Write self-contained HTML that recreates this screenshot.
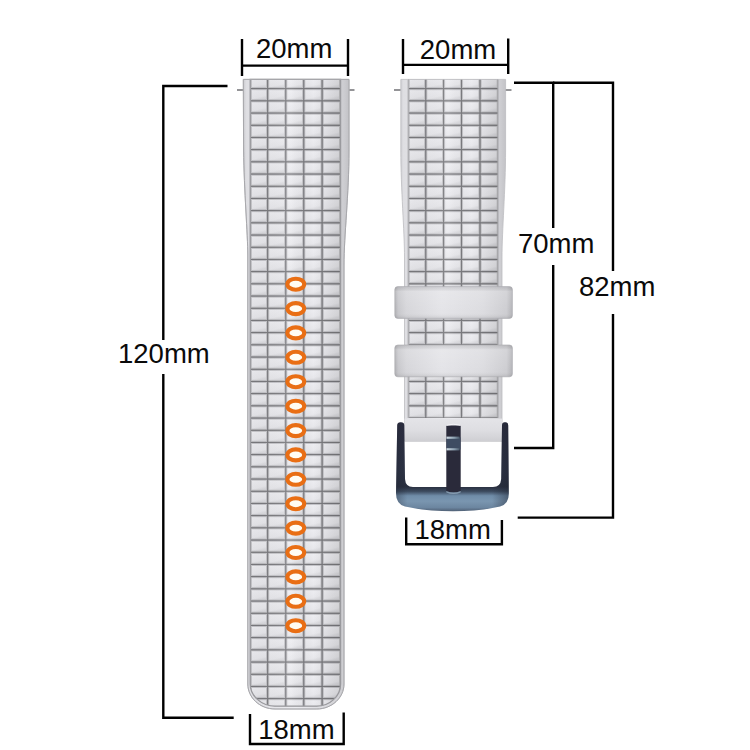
<!DOCTYPE html>
<html><head><meta charset="utf-8"><style>
html,body{margin:0;padding:0;background:#fff;width:750px;height:750px;overflow:hidden}
svg{display:block}
text{font-family:"Liberation Sans",sans-serif;font-size:27.5px;fill:#0a0a0a}
</style></head><body>
<svg width="750" height="750" viewBox="0 0 750 750">
<defs>
<linearGradient id="gL" gradientUnits="userSpaceOnUse" x1="243" x2="349" y1="0" y2="0">
<stop offset="0" stop-color="#c8c8cc"/><stop offset="0.03" stop-color="#dedee2"/><stop offset="0.5" stop-color="#ececf0"/><stop offset="0.88" stop-color="#d4d4d8"/><stop offset="0.95" stop-color="#cdcdd1"/><stop offset="1" stop-color="#c2c2c6"/>
</linearGradient>
<linearGradient id="gR" gradientUnits="userSpaceOnUse" x1="400" x2="506" y1="0" y2="0">
<stop offset="0" stop-color="#c8c8cc"/><stop offset="0.03" stop-color="#dedee2"/><stop offset="0.5" stop-color="#ececf0"/><stop offset="0.88" stop-color="#d4d4d8"/><stop offset="0.95" stop-color="#cdcdd1"/><stop offset="1" stop-color="#c2c2c6"/>
</linearGradient>
<linearGradient id="tile" x1="0" x2="0.35" y1="0" y2="1">
<stop offset="0" stop-color="#f6f6f9"/><stop offset="0.2" stop-color="#ededf1"/><stop offset="0.8" stop-color="#e8e8ec"/><stop offset="1" stop-color="#dcdce0"/>
</linearGradient>
<linearGradient id="cL" gradientUnits="userSpaceOnUse" x1="250" x2="341" y1="0" y2="0">
<stop offset="0" stop-color="#000" stop-opacity="0.03"/><stop offset="0.45" stop-color="#fff" stop-opacity="0.1"/><stop offset="0.7" stop-color="#000" stop-opacity="0"/><stop offset="1" stop-color="#000" stop-opacity="0.11"/>
</linearGradient>
<linearGradient id="cR" gradientUnits="userSpaceOnUse" x1="408" x2="498" y1="0" y2="0">
<stop offset="0" stop-color="#000" stop-opacity="0.03"/><stop offset="0.45" stop-color="#fff" stop-opacity="0.1"/><stop offset="0.7" stop-color="#000" stop-opacity="0"/><stop offset="1" stop-color="#000" stop-opacity="0.11"/>
</linearGradient>
<linearGradient id="loop" x1="0" x2="1" y1="0" y2="0">
<stop offset="0" stop-color="#b0b0b4"/><stop offset="0.03" stop-color="#c8c8cc"/><stop offset="0.1" stop-color="#d6d6da"/><stop offset="0.4" stop-color="#e4e4e8"/><stop offset="0.75" stop-color="#dcdce0"/><stop offset="0.95" stop-color="#cdcdd1"/><stop offset="1" stop-color="#b4b4b8"/>
</linearGradient>
<linearGradient id="loopV" x1="0" x2="0" y1="0" y2="1">
<stop offset="0" stop-color="#000" stop-opacity="0.08"/><stop offset="0.15" stop-color="#fff" stop-opacity="0.15"/><stop offset="0.8" stop-color="#fff" stop-opacity="0"/><stop offset="1" stop-color="#000" stop-opacity="0.1"/>
</linearGradient>
<linearGradient id="endg" x1="0" x2="0" y1="0" y2="1">
<stop offset="0" stop-color="#e4e4e8"/><stop offset="0.5" stop-color="#dedee2"/><stop offset="1" stop-color="#cfcfd3"/>
</linearGradient>
<linearGradient id="buck" gradientUnits="userSpaceOnUse" x1="0" x2="0" y1="422" y2="512">
<stop offset="0" stop-color="#2c2e40"/><stop offset="0.55" stop-color="#2e3446"/><stop offset="0.72" stop-color="#2a3040"/><stop offset="0.77" stop-color="#3c4a5e"/><stop offset="0.82" stop-color="#6f8ca8"/><stop offset="0.88" stop-color="#7a96b0"/><stop offset="0.95" stop-color="#6c86a0"/><stop offset="1" stop-color="#4a586c"/>
</linearGradient>
<linearGradient id="bedge" gradientUnits="userSpaceOnUse" x1="396" x2="509" y1="0" y2="0">
<stop offset="0" stop-color="#1e2230" stop-opacity="0.35"/><stop offset="0.1" stop-color="#1e2230" stop-opacity="0"/><stop offset="0.85" stop-color="#1e2230" stop-opacity="0"/><stop offset="1" stop-color="#1e2230" stop-opacity="0.45"/>
</linearGradient>
<linearGradient id="hl" x1="0" x2="1" y1="0" y2="0">
<stop offset="0" stop-color="#d0dce4"/><stop offset="0.6" stop-color="#8ca0b0"/><stop offset="1" stop-color="#4a5a6c"/>
</linearGradient>
<linearGradient id="side" x1="0" x2="1" y1="0" y2="0">
<stop offset="0" stop-color="#3c4456"/><stop offset="0.4" stop-color="#2a2e3e"/><stop offset="1" stop-color="#282c3a"/>
</linearGradient>
<linearGradient id="sideV" x1="0" x2="0" y1="0" y2="1">
<stop offset="0" stop-color="#000" stop-opacity="0"/><stop offset="0.75" stop-color="#000" stop-opacity="0"/><stop offset="1" stop-color="#5a7088" stop-opacity="0.6"/>
</linearGradient>

<clipPath id="clL"><path d="M250.2,79.4 L340.6,79.4 L340.6,684 C340.6,696.1 329.8,706.2 316.6,706.2 L275,706.2 C261.8,706.2 250.2,696.1 250.2,684 Z"/></clipPath>
<clipPath id="clR"><path d="M400.8,79.4 L505.6,79.4 L505.6,150 C505.6,190 502,230 502,258 L502,441.2 L404.5,441.2 L404.5,258 C404.5,230 400.8,190 400.8,150 Z"/></clipPath>
</defs>
<g stroke="#88888c" stroke-width="1.8">
<line x1="237" y1="90" x2="244" y2="90"/><line x1="348" y1="90" x2="354.5" y2="90"/>
<line x1="394" y1="90" x2="401" y2="90"/><line x1="505" y1="90" x2="511.5" y2="90"/>
</g>
<path d="M243.3,79.4 L349,79.4 L349,150 C349,195 344,235 344,265 L344,684 C344,697.8 331.7,709 316.8,709 L275,709 C260,709 247.8,697.8 247.8,684 L247.8,255 C247.8,235 244,190 243.6,150 Z" fill="url(#gL)" stroke="#bcbcc0" stroke-width="0.8"/>
<g clip-path="url(#clL)">
<rect x="250.2" y="79.4" width="90.4" height="629.6" fill="#7a7a7e"/>
<rect x="251.30" y="79.40" width="15.30" height="8.15" fill="url(#tile)" stroke="#c8c8cc" stroke-width="0.9"/>
<rect x="268.80" y="79.40" width="15.90" height="8.15" fill="url(#tile)" stroke="#c8c8cc" stroke-width="0.9"/>
<rect x="286.90" y="79.40" width="15.80" height="8.15" fill="url(#tile)" stroke="#c8c8cc" stroke-width="0.9"/>
<rect x="304.90" y="79.40" width="16.10" height="8.15" fill="url(#tile)" stroke="#c8c8cc" stroke-width="0.9"/>
<rect x="323.20" y="79.40" width="16.30" height="8.15" fill="url(#tile)" stroke="#c8c8cc" stroke-width="0.9"/>
<rect x="251.30" y="89.75" width="15.30" height="10.00" fill="url(#tile)" stroke="#c8c8cc" stroke-width="0.9"/>
<rect x="268.80" y="89.75" width="15.90" height="10.00" fill="url(#tile)" stroke="#c8c8cc" stroke-width="0.9"/>
<rect x="286.90" y="89.75" width="15.80" height="10.00" fill="url(#tile)" stroke="#c8c8cc" stroke-width="0.9"/>
<rect x="304.90" y="89.75" width="16.10" height="10.00" fill="url(#tile)" stroke="#c8c8cc" stroke-width="0.9"/>
<rect x="323.20" y="89.75" width="16.30" height="10.00" fill="url(#tile)" stroke="#c8c8cc" stroke-width="0.9"/>
<rect x="251.30" y="101.95" width="15.30" height="10.00" fill="url(#tile)" stroke="#c8c8cc" stroke-width="0.9"/>
<rect x="268.80" y="101.95" width="15.90" height="10.00" fill="url(#tile)" stroke="#c8c8cc" stroke-width="0.9"/>
<rect x="286.90" y="101.95" width="15.80" height="10.00" fill="url(#tile)" stroke="#c8c8cc" stroke-width="0.9"/>
<rect x="304.90" y="101.95" width="16.10" height="10.00" fill="url(#tile)" stroke="#c8c8cc" stroke-width="0.9"/>
<rect x="323.20" y="101.95" width="16.30" height="10.00" fill="url(#tile)" stroke="#c8c8cc" stroke-width="0.9"/>
<rect x="251.30" y="114.15" width="15.30" height="10.00" fill="url(#tile)" stroke="#c8c8cc" stroke-width="0.9"/>
<rect x="268.80" y="114.15" width="15.90" height="10.00" fill="url(#tile)" stroke="#c8c8cc" stroke-width="0.9"/>
<rect x="286.90" y="114.15" width="15.80" height="10.00" fill="url(#tile)" stroke="#c8c8cc" stroke-width="0.9"/>
<rect x="304.90" y="114.15" width="16.10" height="10.00" fill="url(#tile)" stroke="#c8c8cc" stroke-width="0.9"/>
<rect x="323.20" y="114.15" width="16.30" height="10.00" fill="url(#tile)" stroke="#c8c8cc" stroke-width="0.9"/>
<rect x="251.30" y="126.35" width="15.30" height="10.00" fill="url(#tile)" stroke="#c8c8cc" stroke-width="0.9"/>
<rect x="268.80" y="126.35" width="15.90" height="10.00" fill="url(#tile)" stroke="#c8c8cc" stroke-width="0.9"/>
<rect x="286.90" y="126.35" width="15.80" height="10.00" fill="url(#tile)" stroke="#c8c8cc" stroke-width="0.9"/>
<rect x="304.90" y="126.35" width="16.10" height="10.00" fill="url(#tile)" stroke="#c8c8cc" stroke-width="0.9"/>
<rect x="323.20" y="126.35" width="16.30" height="10.00" fill="url(#tile)" stroke="#c8c8cc" stroke-width="0.9"/>
<rect x="251.30" y="138.55" width="15.30" height="10.00" fill="url(#tile)" stroke="#c8c8cc" stroke-width="0.9"/>
<rect x="268.80" y="138.55" width="15.90" height="10.00" fill="url(#tile)" stroke="#c8c8cc" stroke-width="0.9"/>
<rect x="286.90" y="138.55" width="15.80" height="10.00" fill="url(#tile)" stroke="#c8c8cc" stroke-width="0.9"/>
<rect x="304.90" y="138.55" width="16.10" height="10.00" fill="url(#tile)" stroke="#c8c8cc" stroke-width="0.9"/>
<rect x="323.20" y="138.55" width="16.30" height="10.00" fill="url(#tile)" stroke="#c8c8cc" stroke-width="0.9"/>
<rect x="251.30" y="150.75" width="15.30" height="10.00" fill="url(#tile)" stroke="#c8c8cc" stroke-width="0.9"/>
<rect x="268.80" y="150.75" width="15.90" height="10.00" fill="url(#tile)" stroke="#c8c8cc" stroke-width="0.9"/>
<rect x="286.90" y="150.75" width="15.80" height="10.00" fill="url(#tile)" stroke="#c8c8cc" stroke-width="0.9"/>
<rect x="304.90" y="150.75" width="16.10" height="10.00" fill="url(#tile)" stroke="#c8c8cc" stroke-width="0.9"/>
<rect x="323.20" y="150.75" width="16.30" height="10.00" fill="url(#tile)" stroke="#c8c8cc" stroke-width="0.9"/>
<rect x="251.30" y="162.95" width="15.30" height="10.00" fill="url(#tile)" stroke="#c8c8cc" stroke-width="0.9"/>
<rect x="268.80" y="162.95" width="15.90" height="10.00" fill="url(#tile)" stroke="#c8c8cc" stroke-width="0.9"/>
<rect x="286.90" y="162.95" width="15.80" height="10.00" fill="url(#tile)" stroke="#c8c8cc" stroke-width="0.9"/>
<rect x="304.90" y="162.95" width="16.10" height="10.00" fill="url(#tile)" stroke="#c8c8cc" stroke-width="0.9"/>
<rect x="323.20" y="162.95" width="16.30" height="10.00" fill="url(#tile)" stroke="#c8c8cc" stroke-width="0.9"/>
<rect x="251.30" y="175.15" width="15.30" height="10.00" fill="url(#tile)" stroke="#c8c8cc" stroke-width="0.9"/>
<rect x="268.80" y="175.15" width="15.90" height="10.00" fill="url(#tile)" stroke="#c8c8cc" stroke-width="0.9"/>
<rect x="286.90" y="175.15" width="15.80" height="10.00" fill="url(#tile)" stroke="#c8c8cc" stroke-width="0.9"/>
<rect x="304.90" y="175.15" width="16.10" height="10.00" fill="url(#tile)" stroke="#c8c8cc" stroke-width="0.9"/>
<rect x="323.20" y="175.15" width="16.30" height="10.00" fill="url(#tile)" stroke="#c8c8cc" stroke-width="0.9"/>
<rect x="251.30" y="187.35" width="15.30" height="10.00" fill="url(#tile)" stroke="#c8c8cc" stroke-width="0.9"/>
<rect x="268.80" y="187.35" width="15.90" height="10.00" fill="url(#tile)" stroke="#c8c8cc" stroke-width="0.9"/>
<rect x="286.90" y="187.35" width="15.80" height="10.00" fill="url(#tile)" stroke="#c8c8cc" stroke-width="0.9"/>
<rect x="304.90" y="187.35" width="16.10" height="10.00" fill="url(#tile)" stroke="#c8c8cc" stroke-width="0.9"/>
<rect x="323.20" y="187.35" width="16.30" height="10.00" fill="url(#tile)" stroke="#c8c8cc" stroke-width="0.9"/>
<rect x="251.30" y="199.55" width="15.30" height="10.00" fill="url(#tile)" stroke="#c8c8cc" stroke-width="0.9"/>
<rect x="268.80" y="199.55" width="15.90" height="10.00" fill="url(#tile)" stroke="#c8c8cc" stroke-width="0.9"/>
<rect x="286.90" y="199.55" width="15.80" height="10.00" fill="url(#tile)" stroke="#c8c8cc" stroke-width="0.9"/>
<rect x="304.90" y="199.55" width="16.10" height="10.00" fill="url(#tile)" stroke="#c8c8cc" stroke-width="0.9"/>
<rect x="323.20" y="199.55" width="16.30" height="10.00" fill="url(#tile)" stroke="#c8c8cc" stroke-width="0.9"/>
<rect x="251.30" y="211.75" width="15.30" height="10.00" fill="url(#tile)" stroke="#c8c8cc" stroke-width="0.9"/>
<rect x="268.80" y="211.75" width="15.90" height="10.00" fill="url(#tile)" stroke="#c8c8cc" stroke-width="0.9"/>
<rect x="286.90" y="211.75" width="15.80" height="10.00" fill="url(#tile)" stroke="#c8c8cc" stroke-width="0.9"/>
<rect x="304.90" y="211.75" width="16.10" height="10.00" fill="url(#tile)" stroke="#c8c8cc" stroke-width="0.9"/>
<rect x="323.20" y="211.75" width="16.30" height="10.00" fill="url(#tile)" stroke="#c8c8cc" stroke-width="0.9"/>
<rect x="251.30" y="223.95" width="15.30" height="10.00" fill="url(#tile)" stroke="#c8c8cc" stroke-width="0.9"/>
<rect x="268.80" y="223.95" width="15.90" height="10.00" fill="url(#tile)" stroke="#c8c8cc" stroke-width="0.9"/>
<rect x="286.90" y="223.95" width="15.80" height="10.00" fill="url(#tile)" stroke="#c8c8cc" stroke-width="0.9"/>
<rect x="304.90" y="223.95" width="16.10" height="10.00" fill="url(#tile)" stroke="#c8c8cc" stroke-width="0.9"/>
<rect x="323.20" y="223.95" width="16.30" height="10.00" fill="url(#tile)" stroke="#c8c8cc" stroke-width="0.9"/>
<rect x="251.30" y="236.15" width="15.30" height="10.00" fill="url(#tile)" stroke="#c8c8cc" stroke-width="0.9"/>
<rect x="268.80" y="236.15" width="15.90" height="10.00" fill="url(#tile)" stroke="#c8c8cc" stroke-width="0.9"/>
<rect x="286.90" y="236.15" width="15.80" height="10.00" fill="url(#tile)" stroke="#c8c8cc" stroke-width="0.9"/>
<rect x="304.90" y="236.15" width="16.10" height="10.00" fill="url(#tile)" stroke="#c8c8cc" stroke-width="0.9"/>
<rect x="323.20" y="236.15" width="16.30" height="10.00" fill="url(#tile)" stroke="#c8c8cc" stroke-width="0.9"/>
<rect x="251.30" y="248.35" width="15.30" height="10.00" fill="url(#tile)" stroke="#c8c8cc" stroke-width="0.9"/>
<rect x="268.80" y="248.35" width="15.90" height="10.00" fill="url(#tile)" stroke="#c8c8cc" stroke-width="0.9"/>
<rect x="286.90" y="248.35" width="15.80" height="10.00" fill="url(#tile)" stroke="#c8c8cc" stroke-width="0.9"/>
<rect x="304.90" y="248.35" width="16.10" height="10.00" fill="url(#tile)" stroke="#c8c8cc" stroke-width="0.9"/>
<rect x="323.20" y="248.35" width="16.30" height="10.00" fill="url(#tile)" stroke="#c8c8cc" stroke-width="0.9"/>
<rect x="251.30" y="260.55" width="15.30" height="10.00" fill="url(#tile)" stroke="#c8c8cc" stroke-width="0.9"/>
<rect x="268.80" y="260.55" width="15.90" height="10.00" fill="url(#tile)" stroke="#c8c8cc" stroke-width="0.9"/>
<rect x="286.90" y="260.55" width="15.80" height="10.00" fill="url(#tile)" stroke="#c8c8cc" stroke-width="0.9"/>
<rect x="304.90" y="260.55" width="16.10" height="10.00" fill="url(#tile)" stroke="#c8c8cc" stroke-width="0.9"/>
<rect x="323.20" y="260.55" width="16.30" height="10.00" fill="url(#tile)" stroke="#c8c8cc" stroke-width="0.9"/>
<rect x="251.30" y="272.75" width="15.30" height="10.00" fill="url(#tile)" stroke="#c8c8cc" stroke-width="0.9"/>
<rect x="268.80" y="272.75" width="15.90" height="10.00" fill="url(#tile)" stroke="#c8c8cc" stroke-width="0.9"/>
<rect x="286.90" y="272.75" width="15.80" height="10.00" fill="url(#tile)" stroke="#c8c8cc" stroke-width="0.9"/>
<rect x="304.90" y="272.75" width="16.10" height="10.00" fill="url(#tile)" stroke="#c8c8cc" stroke-width="0.9"/>
<rect x="323.20" y="272.75" width="16.30" height="10.00" fill="url(#tile)" stroke="#c8c8cc" stroke-width="0.9"/>
<rect x="251.30" y="284.95" width="15.30" height="10.00" fill="url(#tile)" stroke="#c8c8cc" stroke-width="0.9"/>
<rect x="268.80" y="284.95" width="15.90" height="10.00" fill="url(#tile)" stroke="#c8c8cc" stroke-width="0.9"/>
<rect x="286.90" y="284.95" width="15.80" height="10.00" fill="url(#tile)" stroke="#c8c8cc" stroke-width="0.9"/>
<rect x="304.90" y="284.95" width="16.10" height="10.00" fill="url(#tile)" stroke="#c8c8cc" stroke-width="0.9"/>
<rect x="323.20" y="284.95" width="16.30" height="10.00" fill="url(#tile)" stroke="#c8c8cc" stroke-width="0.9"/>
<rect x="251.30" y="297.15" width="15.30" height="10.00" fill="url(#tile)" stroke="#c8c8cc" stroke-width="0.9"/>
<rect x="268.80" y="297.15" width="15.90" height="10.00" fill="url(#tile)" stroke="#c8c8cc" stroke-width="0.9"/>
<rect x="286.90" y="297.15" width="15.80" height="10.00" fill="url(#tile)" stroke="#c8c8cc" stroke-width="0.9"/>
<rect x="304.90" y="297.15" width="16.10" height="10.00" fill="url(#tile)" stroke="#c8c8cc" stroke-width="0.9"/>
<rect x="323.20" y="297.15" width="16.30" height="10.00" fill="url(#tile)" stroke="#c8c8cc" stroke-width="0.9"/>
<rect x="251.30" y="309.35" width="15.30" height="10.00" fill="url(#tile)" stroke="#c8c8cc" stroke-width="0.9"/>
<rect x="268.80" y="309.35" width="15.90" height="10.00" fill="url(#tile)" stroke="#c8c8cc" stroke-width="0.9"/>
<rect x="286.90" y="309.35" width="15.80" height="10.00" fill="url(#tile)" stroke="#c8c8cc" stroke-width="0.9"/>
<rect x="304.90" y="309.35" width="16.10" height="10.00" fill="url(#tile)" stroke="#c8c8cc" stroke-width="0.9"/>
<rect x="323.20" y="309.35" width="16.30" height="10.00" fill="url(#tile)" stroke="#c8c8cc" stroke-width="0.9"/>
<rect x="251.30" y="321.55" width="15.30" height="10.00" fill="url(#tile)" stroke="#c8c8cc" stroke-width="0.9"/>
<rect x="268.80" y="321.55" width="15.90" height="10.00" fill="url(#tile)" stroke="#c8c8cc" stroke-width="0.9"/>
<rect x="286.90" y="321.55" width="15.80" height="10.00" fill="url(#tile)" stroke="#c8c8cc" stroke-width="0.9"/>
<rect x="304.90" y="321.55" width="16.10" height="10.00" fill="url(#tile)" stroke="#c8c8cc" stroke-width="0.9"/>
<rect x="323.20" y="321.55" width="16.30" height="10.00" fill="url(#tile)" stroke="#c8c8cc" stroke-width="0.9"/>
<rect x="251.30" y="333.75" width="15.30" height="10.00" fill="url(#tile)" stroke="#c8c8cc" stroke-width="0.9"/>
<rect x="268.80" y="333.75" width="15.90" height="10.00" fill="url(#tile)" stroke="#c8c8cc" stroke-width="0.9"/>
<rect x="286.90" y="333.75" width="15.80" height="10.00" fill="url(#tile)" stroke="#c8c8cc" stroke-width="0.9"/>
<rect x="304.90" y="333.75" width="16.10" height="10.00" fill="url(#tile)" stroke="#c8c8cc" stroke-width="0.9"/>
<rect x="323.20" y="333.75" width="16.30" height="10.00" fill="url(#tile)" stroke="#c8c8cc" stroke-width="0.9"/>
<rect x="251.30" y="345.95" width="15.30" height="10.00" fill="url(#tile)" stroke="#c8c8cc" stroke-width="0.9"/>
<rect x="268.80" y="345.95" width="15.90" height="10.00" fill="url(#tile)" stroke="#c8c8cc" stroke-width="0.9"/>
<rect x="286.90" y="345.95" width="15.80" height="10.00" fill="url(#tile)" stroke="#c8c8cc" stroke-width="0.9"/>
<rect x="304.90" y="345.95" width="16.10" height="10.00" fill="url(#tile)" stroke="#c8c8cc" stroke-width="0.9"/>
<rect x="323.20" y="345.95" width="16.30" height="10.00" fill="url(#tile)" stroke="#c8c8cc" stroke-width="0.9"/>
<rect x="251.30" y="358.15" width="15.30" height="10.00" fill="url(#tile)" stroke="#c8c8cc" stroke-width="0.9"/>
<rect x="268.80" y="358.15" width="15.90" height="10.00" fill="url(#tile)" stroke="#c8c8cc" stroke-width="0.9"/>
<rect x="286.90" y="358.15" width="15.80" height="10.00" fill="url(#tile)" stroke="#c8c8cc" stroke-width="0.9"/>
<rect x="304.90" y="358.15" width="16.10" height="10.00" fill="url(#tile)" stroke="#c8c8cc" stroke-width="0.9"/>
<rect x="323.20" y="358.15" width="16.30" height="10.00" fill="url(#tile)" stroke="#c8c8cc" stroke-width="0.9"/>
<rect x="251.30" y="370.35" width="15.30" height="10.00" fill="url(#tile)" stroke="#c8c8cc" stroke-width="0.9"/>
<rect x="268.80" y="370.35" width="15.90" height="10.00" fill="url(#tile)" stroke="#c8c8cc" stroke-width="0.9"/>
<rect x="286.90" y="370.35" width="15.80" height="10.00" fill="url(#tile)" stroke="#c8c8cc" stroke-width="0.9"/>
<rect x="304.90" y="370.35" width="16.10" height="10.00" fill="url(#tile)" stroke="#c8c8cc" stroke-width="0.9"/>
<rect x="323.20" y="370.35" width="16.30" height="10.00" fill="url(#tile)" stroke="#c8c8cc" stroke-width="0.9"/>
<rect x="251.30" y="382.55" width="15.30" height="10.00" fill="url(#tile)" stroke="#c8c8cc" stroke-width="0.9"/>
<rect x="268.80" y="382.55" width="15.90" height="10.00" fill="url(#tile)" stroke="#c8c8cc" stroke-width="0.9"/>
<rect x="286.90" y="382.55" width="15.80" height="10.00" fill="url(#tile)" stroke="#c8c8cc" stroke-width="0.9"/>
<rect x="304.90" y="382.55" width="16.10" height="10.00" fill="url(#tile)" stroke="#c8c8cc" stroke-width="0.9"/>
<rect x="323.20" y="382.55" width="16.30" height="10.00" fill="url(#tile)" stroke="#c8c8cc" stroke-width="0.9"/>
<rect x="251.30" y="394.75" width="15.30" height="10.00" fill="url(#tile)" stroke="#c8c8cc" stroke-width="0.9"/>
<rect x="268.80" y="394.75" width="15.90" height="10.00" fill="url(#tile)" stroke="#c8c8cc" stroke-width="0.9"/>
<rect x="286.90" y="394.75" width="15.80" height="10.00" fill="url(#tile)" stroke="#c8c8cc" stroke-width="0.9"/>
<rect x="304.90" y="394.75" width="16.10" height="10.00" fill="url(#tile)" stroke="#c8c8cc" stroke-width="0.9"/>
<rect x="323.20" y="394.75" width="16.30" height="10.00" fill="url(#tile)" stroke="#c8c8cc" stroke-width="0.9"/>
<rect x="251.30" y="406.95" width="15.30" height="10.00" fill="url(#tile)" stroke="#c8c8cc" stroke-width="0.9"/>
<rect x="268.80" y="406.95" width="15.90" height="10.00" fill="url(#tile)" stroke="#c8c8cc" stroke-width="0.9"/>
<rect x="286.90" y="406.95" width="15.80" height="10.00" fill="url(#tile)" stroke="#c8c8cc" stroke-width="0.9"/>
<rect x="304.90" y="406.95" width="16.10" height="10.00" fill="url(#tile)" stroke="#c8c8cc" stroke-width="0.9"/>
<rect x="323.20" y="406.95" width="16.30" height="10.00" fill="url(#tile)" stroke="#c8c8cc" stroke-width="0.9"/>
<rect x="251.30" y="419.15" width="15.30" height="10.00" fill="url(#tile)" stroke="#c8c8cc" stroke-width="0.9"/>
<rect x="268.80" y="419.15" width="15.90" height="10.00" fill="url(#tile)" stroke="#c8c8cc" stroke-width="0.9"/>
<rect x="286.90" y="419.15" width="15.80" height="10.00" fill="url(#tile)" stroke="#c8c8cc" stroke-width="0.9"/>
<rect x="304.90" y="419.15" width="16.10" height="10.00" fill="url(#tile)" stroke="#c8c8cc" stroke-width="0.9"/>
<rect x="323.20" y="419.15" width="16.30" height="10.00" fill="url(#tile)" stroke="#c8c8cc" stroke-width="0.9"/>
<rect x="251.30" y="431.35" width="15.30" height="10.00" fill="url(#tile)" stroke="#c8c8cc" stroke-width="0.9"/>
<rect x="268.80" y="431.35" width="15.90" height="10.00" fill="url(#tile)" stroke="#c8c8cc" stroke-width="0.9"/>
<rect x="286.90" y="431.35" width="15.80" height="10.00" fill="url(#tile)" stroke="#c8c8cc" stroke-width="0.9"/>
<rect x="304.90" y="431.35" width="16.10" height="10.00" fill="url(#tile)" stroke="#c8c8cc" stroke-width="0.9"/>
<rect x="323.20" y="431.35" width="16.30" height="10.00" fill="url(#tile)" stroke="#c8c8cc" stroke-width="0.9"/>
<rect x="251.30" y="443.55" width="15.30" height="10.00" fill="url(#tile)" stroke="#c8c8cc" stroke-width="0.9"/>
<rect x="268.80" y="443.55" width="15.90" height="10.00" fill="url(#tile)" stroke="#c8c8cc" stroke-width="0.9"/>
<rect x="286.90" y="443.55" width="15.80" height="10.00" fill="url(#tile)" stroke="#c8c8cc" stroke-width="0.9"/>
<rect x="304.90" y="443.55" width="16.10" height="10.00" fill="url(#tile)" stroke="#c8c8cc" stroke-width="0.9"/>
<rect x="323.20" y="443.55" width="16.30" height="10.00" fill="url(#tile)" stroke="#c8c8cc" stroke-width="0.9"/>
<rect x="251.30" y="455.75" width="15.30" height="10.00" fill="url(#tile)" stroke="#c8c8cc" stroke-width="0.9"/>
<rect x="268.80" y="455.75" width="15.90" height="10.00" fill="url(#tile)" stroke="#c8c8cc" stroke-width="0.9"/>
<rect x="286.90" y="455.75" width="15.80" height="10.00" fill="url(#tile)" stroke="#c8c8cc" stroke-width="0.9"/>
<rect x="304.90" y="455.75" width="16.10" height="10.00" fill="url(#tile)" stroke="#c8c8cc" stroke-width="0.9"/>
<rect x="323.20" y="455.75" width="16.30" height="10.00" fill="url(#tile)" stroke="#c8c8cc" stroke-width="0.9"/>
<rect x="251.30" y="467.95" width="15.30" height="10.00" fill="url(#tile)" stroke="#c8c8cc" stroke-width="0.9"/>
<rect x="268.80" y="467.95" width="15.90" height="10.00" fill="url(#tile)" stroke="#c8c8cc" stroke-width="0.9"/>
<rect x="286.90" y="467.95" width="15.80" height="10.00" fill="url(#tile)" stroke="#c8c8cc" stroke-width="0.9"/>
<rect x="304.90" y="467.95" width="16.10" height="10.00" fill="url(#tile)" stroke="#c8c8cc" stroke-width="0.9"/>
<rect x="323.20" y="467.95" width="16.30" height="10.00" fill="url(#tile)" stroke="#c8c8cc" stroke-width="0.9"/>
<rect x="251.30" y="480.15" width="15.30" height="10.00" fill="url(#tile)" stroke="#c8c8cc" stroke-width="0.9"/>
<rect x="268.80" y="480.15" width="15.90" height="10.00" fill="url(#tile)" stroke="#c8c8cc" stroke-width="0.9"/>
<rect x="286.90" y="480.15" width="15.80" height="10.00" fill="url(#tile)" stroke="#c8c8cc" stroke-width="0.9"/>
<rect x="304.90" y="480.15" width="16.10" height="10.00" fill="url(#tile)" stroke="#c8c8cc" stroke-width="0.9"/>
<rect x="323.20" y="480.15" width="16.30" height="10.00" fill="url(#tile)" stroke="#c8c8cc" stroke-width="0.9"/>
<rect x="251.30" y="492.35" width="15.30" height="10.00" fill="url(#tile)" stroke="#c8c8cc" stroke-width="0.9"/>
<rect x="268.80" y="492.35" width="15.90" height="10.00" fill="url(#tile)" stroke="#c8c8cc" stroke-width="0.9"/>
<rect x="286.90" y="492.35" width="15.80" height="10.00" fill="url(#tile)" stroke="#c8c8cc" stroke-width="0.9"/>
<rect x="304.90" y="492.35" width="16.10" height="10.00" fill="url(#tile)" stroke="#c8c8cc" stroke-width="0.9"/>
<rect x="323.20" y="492.35" width="16.30" height="10.00" fill="url(#tile)" stroke="#c8c8cc" stroke-width="0.9"/>
<rect x="251.30" y="504.55" width="15.30" height="10.00" fill="url(#tile)" stroke="#c8c8cc" stroke-width="0.9"/>
<rect x="268.80" y="504.55" width="15.90" height="10.00" fill="url(#tile)" stroke="#c8c8cc" stroke-width="0.9"/>
<rect x="286.90" y="504.55" width="15.80" height="10.00" fill="url(#tile)" stroke="#c8c8cc" stroke-width="0.9"/>
<rect x="304.90" y="504.55" width="16.10" height="10.00" fill="url(#tile)" stroke="#c8c8cc" stroke-width="0.9"/>
<rect x="323.20" y="504.55" width="16.30" height="10.00" fill="url(#tile)" stroke="#c8c8cc" stroke-width="0.9"/>
<rect x="251.30" y="516.75" width="15.30" height="10.00" fill="url(#tile)" stroke="#c8c8cc" stroke-width="0.9"/>
<rect x="268.80" y="516.75" width="15.90" height="10.00" fill="url(#tile)" stroke="#c8c8cc" stroke-width="0.9"/>
<rect x="286.90" y="516.75" width="15.80" height="10.00" fill="url(#tile)" stroke="#c8c8cc" stroke-width="0.9"/>
<rect x="304.90" y="516.75" width="16.10" height="10.00" fill="url(#tile)" stroke="#c8c8cc" stroke-width="0.9"/>
<rect x="323.20" y="516.75" width="16.30" height="10.00" fill="url(#tile)" stroke="#c8c8cc" stroke-width="0.9"/>
<rect x="251.30" y="528.95" width="15.30" height="10.00" fill="url(#tile)" stroke="#c8c8cc" stroke-width="0.9"/>
<rect x="268.80" y="528.95" width="15.90" height="10.00" fill="url(#tile)" stroke="#c8c8cc" stroke-width="0.9"/>
<rect x="286.90" y="528.95" width="15.80" height="10.00" fill="url(#tile)" stroke="#c8c8cc" stroke-width="0.9"/>
<rect x="304.90" y="528.95" width="16.10" height="10.00" fill="url(#tile)" stroke="#c8c8cc" stroke-width="0.9"/>
<rect x="323.20" y="528.95" width="16.30" height="10.00" fill="url(#tile)" stroke="#c8c8cc" stroke-width="0.9"/>
<rect x="251.30" y="541.15" width="15.30" height="10.00" fill="url(#tile)" stroke="#c8c8cc" stroke-width="0.9"/>
<rect x="268.80" y="541.15" width="15.90" height="10.00" fill="url(#tile)" stroke="#c8c8cc" stroke-width="0.9"/>
<rect x="286.90" y="541.15" width="15.80" height="10.00" fill="url(#tile)" stroke="#c8c8cc" stroke-width="0.9"/>
<rect x="304.90" y="541.15" width="16.10" height="10.00" fill="url(#tile)" stroke="#c8c8cc" stroke-width="0.9"/>
<rect x="323.20" y="541.15" width="16.30" height="10.00" fill="url(#tile)" stroke="#c8c8cc" stroke-width="0.9"/>
<rect x="251.30" y="553.35" width="15.30" height="10.00" fill="url(#tile)" stroke="#c8c8cc" stroke-width="0.9"/>
<rect x="268.80" y="553.35" width="15.90" height="10.00" fill="url(#tile)" stroke="#c8c8cc" stroke-width="0.9"/>
<rect x="286.90" y="553.35" width="15.80" height="10.00" fill="url(#tile)" stroke="#c8c8cc" stroke-width="0.9"/>
<rect x="304.90" y="553.35" width="16.10" height="10.00" fill="url(#tile)" stroke="#c8c8cc" stroke-width="0.9"/>
<rect x="323.20" y="553.35" width="16.30" height="10.00" fill="url(#tile)" stroke="#c8c8cc" stroke-width="0.9"/>
<rect x="251.30" y="565.55" width="15.30" height="10.00" fill="url(#tile)" stroke="#c8c8cc" stroke-width="0.9"/>
<rect x="268.80" y="565.55" width="15.90" height="10.00" fill="url(#tile)" stroke="#c8c8cc" stroke-width="0.9"/>
<rect x="286.90" y="565.55" width="15.80" height="10.00" fill="url(#tile)" stroke="#c8c8cc" stroke-width="0.9"/>
<rect x="304.90" y="565.55" width="16.10" height="10.00" fill="url(#tile)" stroke="#c8c8cc" stroke-width="0.9"/>
<rect x="323.20" y="565.55" width="16.30" height="10.00" fill="url(#tile)" stroke="#c8c8cc" stroke-width="0.9"/>
<rect x="251.30" y="577.75" width="15.30" height="10.00" fill="url(#tile)" stroke="#c8c8cc" stroke-width="0.9"/>
<rect x="268.80" y="577.75" width="15.90" height="10.00" fill="url(#tile)" stroke="#c8c8cc" stroke-width="0.9"/>
<rect x="286.90" y="577.75" width="15.80" height="10.00" fill="url(#tile)" stroke="#c8c8cc" stroke-width="0.9"/>
<rect x="304.90" y="577.75" width="16.10" height="10.00" fill="url(#tile)" stroke="#c8c8cc" stroke-width="0.9"/>
<rect x="323.20" y="577.75" width="16.30" height="10.00" fill="url(#tile)" stroke="#c8c8cc" stroke-width="0.9"/>
<rect x="251.30" y="589.95" width="15.30" height="10.00" fill="url(#tile)" stroke="#c8c8cc" stroke-width="0.9"/>
<rect x="268.80" y="589.95" width="15.90" height="10.00" fill="url(#tile)" stroke="#c8c8cc" stroke-width="0.9"/>
<rect x="286.90" y="589.95" width="15.80" height="10.00" fill="url(#tile)" stroke="#c8c8cc" stroke-width="0.9"/>
<rect x="304.90" y="589.95" width="16.10" height="10.00" fill="url(#tile)" stroke="#c8c8cc" stroke-width="0.9"/>
<rect x="323.20" y="589.95" width="16.30" height="10.00" fill="url(#tile)" stroke="#c8c8cc" stroke-width="0.9"/>
<rect x="251.30" y="602.15" width="15.30" height="10.00" fill="url(#tile)" stroke="#c8c8cc" stroke-width="0.9"/>
<rect x="268.80" y="602.15" width="15.90" height="10.00" fill="url(#tile)" stroke="#c8c8cc" stroke-width="0.9"/>
<rect x="286.90" y="602.15" width="15.80" height="10.00" fill="url(#tile)" stroke="#c8c8cc" stroke-width="0.9"/>
<rect x="304.90" y="602.15" width="16.10" height="10.00" fill="url(#tile)" stroke="#c8c8cc" stroke-width="0.9"/>
<rect x="323.20" y="602.15" width="16.30" height="10.00" fill="url(#tile)" stroke="#c8c8cc" stroke-width="0.9"/>
<rect x="251.30" y="614.35" width="15.30" height="10.00" fill="url(#tile)" stroke="#c8c8cc" stroke-width="0.9"/>
<rect x="268.80" y="614.35" width="15.90" height="10.00" fill="url(#tile)" stroke="#c8c8cc" stroke-width="0.9"/>
<rect x="286.90" y="614.35" width="15.80" height="10.00" fill="url(#tile)" stroke="#c8c8cc" stroke-width="0.9"/>
<rect x="304.90" y="614.35" width="16.10" height="10.00" fill="url(#tile)" stroke="#c8c8cc" stroke-width="0.9"/>
<rect x="323.20" y="614.35" width="16.30" height="10.00" fill="url(#tile)" stroke="#c8c8cc" stroke-width="0.9"/>
<rect x="251.30" y="626.55" width="15.30" height="10.00" fill="url(#tile)" stroke="#c8c8cc" stroke-width="0.9"/>
<rect x="268.80" y="626.55" width="15.90" height="10.00" fill="url(#tile)" stroke="#c8c8cc" stroke-width="0.9"/>
<rect x="286.90" y="626.55" width="15.80" height="10.00" fill="url(#tile)" stroke="#c8c8cc" stroke-width="0.9"/>
<rect x="304.90" y="626.55" width="16.10" height="10.00" fill="url(#tile)" stroke="#c8c8cc" stroke-width="0.9"/>
<rect x="323.20" y="626.55" width="16.30" height="10.00" fill="url(#tile)" stroke="#c8c8cc" stroke-width="0.9"/>
<rect x="251.30" y="638.75" width="15.30" height="10.00" fill="url(#tile)" stroke="#c8c8cc" stroke-width="0.9"/>
<rect x="268.80" y="638.75" width="15.90" height="10.00" fill="url(#tile)" stroke="#c8c8cc" stroke-width="0.9"/>
<rect x="286.90" y="638.75" width="15.80" height="10.00" fill="url(#tile)" stroke="#c8c8cc" stroke-width="0.9"/>
<rect x="304.90" y="638.75" width="16.10" height="10.00" fill="url(#tile)" stroke="#c8c8cc" stroke-width="0.9"/>
<rect x="323.20" y="638.75" width="16.30" height="10.00" fill="url(#tile)" stroke="#c8c8cc" stroke-width="0.9"/>
<rect x="251.30" y="650.95" width="15.30" height="10.00" fill="url(#tile)" stroke="#c8c8cc" stroke-width="0.9"/>
<rect x="268.80" y="650.95" width="15.90" height="10.00" fill="url(#tile)" stroke="#c8c8cc" stroke-width="0.9"/>
<rect x="286.90" y="650.95" width="15.80" height="10.00" fill="url(#tile)" stroke="#c8c8cc" stroke-width="0.9"/>
<rect x="304.90" y="650.95" width="16.10" height="10.00" fill="url(#tile)" stroke="#c8c8cc" stroke-width="0.9"/>
<rect x="323.20" y="650.95" width="16.30" height="10.00" fill="url(#tile)" stroke="#c8c8cc" stroke-width="0.9"/>
<rect x="251.30" y="663.15" width="15.30" height="10.00" fill="url(#tile)" stroke="#c8c8cc" stroke-width="0.9"/>
<rect x="268.80" y="663.15" width="15.90" height="10.00" fill="url(#tile)" stroke="#c8c8cc" stroke-width="0.9"/>
<rect x="286.90" y="663.15" width="15.80" height="10.00" fill="url(#tile)" stroke="#c8c8cc" stroke-width="0.9"/>
<rect x="304.90" y="663.15" width="16.10" height="10.00" fill="url(#tile)" stroke="#c8c8cc" stroke-width="0.9"/>
<rect x="323.20" y="663.15" width="16.30" height="10.00" fill="url(#tile)" stroke="#c8c8cc" stroke-width="0.9"/>
<rect x="251.30" y="675.35" width="15.30" height="10.00" fill="url(#tile)" stroke="#c8c8cc" stroke-width="0.9"/>
<rect x="268.80" y="675.35" width="15.90" height="10.00" fill="url(#tile)" stroke="#c8c8cc" stroke-width="0.9"/>
<rect x="286.90" y="675.35" width="15.80" height="10.00" fill="url(#tile)" stroke="#c8c8cc" stroke-width="0.9"/>
<rect x="304.90" y="675.35" width="16.10" height="10.00" fill="url(#tile)" stroke="#c8c8cc" stroke-width="0.9"/>
<rect x="323.20" y="675.35" width="16.30" height="10.00" fill="url(#tile)" stroke="#c8c8cc" stroke-width="0.9"/>
<rect x="251.30" y="687.55" width="15.30" height="10.00" fill="url(#tile)" stroke="#c8c8cc" stroke-width="0.9"/>
<rect x="268.80" y="687.55" width="15.90" height="10.00" fill="url(#tile)" stroke="#c8c8cc" stroke-width="0.9"/>
<rect x="286.90" y="687.55" width="15.80" height="10.00" fill="url(#tile)" stroke="#c8c8cc" stroke-width="0.9"/>
<rect x="304.90" y="687.55" width="16.10" height="10.00" fill="url(#tile)" stroke="#c8c8cc" stroke-width="0.9"/>
<rect x="323.20" y="687.55" width="16.30" height="10.00" fill="url(#tile)" stroke="#c8c8cc" stroke-width="0.9"/>
<rect x="251.30" y="699.75" width="15.30" height="9.25" fill="url(#tile)" stroke="#c8c8cc" stroke-width="0.9"/>
<rect x="268.80" y="699.75" width="15.90" height="9.25" fill="url(#tile)" stroke="#c8c8cc" stroke-width="0.9"/>
<rect x="286.90" y="699.75" width="15.80" height="9.25" fill="url(#tile)" stroke="#c8c8cc" stroke-width="0.9"/>
<rect x="304.90" y="699.75" width="16.10" height="9.25" fill="url(#tile)" stroke="#c8c8cc" stroke-width="0.9"/>
<rect x="323.20" y="699.75" width="16.30" height="9.25" fill="url(#tile)" stroke="#c8c8cc" stroke-width="0.9"/>
<rect x="250.2" y="79.4" width="90.4" height="629.6" fill="url(#cL)"/>
<g stroke="#bababe" stroke-width="1.3">
<line x1="250.2" y1="79.4" x2="250.2" y2="709.0"/>
<line x1="340.6" y1="79.4" x2="340.6" y2="709.0"/>
</g></g>
<path d="M250.2,79.4 L340.6,79.4 L340.6,684 C340.6,696.1 329.8,706.2 316.6,706.2 L275,706.2 C261.8,706.2 250.2,696.1 250.2,684 Z" fill="none" stroke="#9a9a9e" stroke-width="1.3"/>
<path d="M243.3,79.4 L349,79.4 L349,150 C349,195 344,235 344,265 L344,684 C344,697.8 331.7,709 316.8,709 L275,709 C260,709 247.8,697.8 247.8,684 L247.8,255 C247.8,235 244,190 243.6,150 Z" fill="none" stroke="#a8a8ac" stroke-width="1"/>
<path d="M400.8,79.4 L505.6,79.4 L505.6,150 C505.6,190 502,230 502,258 L502,441.2 L404.5,441.2 L404.5,258 C404.5,230 400.8,190 400.8,150 Z" fill="url(#gR)" stroke="#bcbcc0" stroke-width="0.8"/>
<g clip-path="url(#clR)">
<rect x="408.1" y="79.4" width="90.1" height="338.6" fill="#7a7a7e"/>
<rect x="409.20" y="79.40" width="15.50" height="8.15" fill="url(#tile)" stroke="#c8c8cc" stroke-width="0.9"/>
<rect x="426.90" y="79.40" width="15.60" height="8.15" fill="url(#tile)" stroke="#c8c8cc" stroke-width="0.9"/>
<rect x="444.70" y="79.40" width="15.70" height="8.15" fill="url(#tile)" stroke="#c8c8cc" stroke-width="0.9"/>
<rect x="462.60" y="79.40" width="16.30" height="8.15" fill="url(#tile)" stroke="#c8c8cc" stroke-width="0.9"/>
<rect x="481.10" y="79.40" width="16.00" height="8.15" fill="url(#tile)" stroke="#c8c8cc" stroke-width="0.9"/>
<rect x="409.20" y="89.75" width="15.50" height="10.00" fill="url(#tile)" stroke="#c8c8cc" stroke-width="0.9"/>
<rect x="426.90" y="89.75" width="15.60" height="10.00" fill="url(#tile)" stroke="#c8c8cc" stroke-width="0.9"/>
<rect x="444.70" y="89.75" width="15.70" height="10.00" fill="url(#tile)" stroke="#c8c8cc" stroke-width="0.9"/>
<rect x="462.60" y="89.75" width="16.30" height="10.00" fill="url(#tile)" stroke="#c8c8cc" stroke-width="0.9"/>
<rect x="481.10" y="89.75" width="16.00" height="10.00" fill="url(#tile)" stroke="#c8c8cc" stroke-width="0.9"/>
<rect x="409.20" y="101.95" width="15.50" height="10.00" fill="url(#tile)" stroke="#c8c8cc" stroke-width="0.9"/>
<rect x="426.90" y="101.95" width="15.60" height="10.00" fill="url(#tile)" stroke="#c8c8cc" stroke-width="0.9"/>
<rect x="444.70" y="101.95" width="15.70" height="10.00" fill="url(#tile)" stroke="#c8c8cc" stroke-width="0.9"/>
<rect x="462.60" y="101.95" width="16.30" height="10.00" fill="url(#tile)" stroke="#c8c8cc" stroke-width="0.9"/>
<rect x="481.10" y="101.95" width="16.00" height="10.00" fill="url(#tile)" stroke="#c8c8cc" stroke-width="0.9"/>
<rect x="409.20" y="114.15" width="15.50" height="10.00" fill="url(#tile)" stroke="#c8c8cc" stroke-width="0.9"/>
<rect x="426.90" y="114.15" width="15.60" height="10.00" fill="url(#tile)" stroke="#c8c8cc" stroke-width="0.9"/>
<rect x="444.70" y="114.15" width="15.70" height="10.00" fill="url(#tile)" stroke="#c8c8cc" stroke-width="0.9"/>
<rect x="462.60" y="114.15" width="16.30" height="10.00" fill="url(#tile)" stroke="#c8c8cc" stroke-width="0.9"/>
<rect x="481.10" y="114.15" width="16.00" height="10.00" fill="url(#tile)" stroke="#c8c8cc" stroke-width="0.9"/>
<rect x="409.20" y="126.35" width="15.50" height="10.00" fill="url(#tile)" stroke="#c8c8cc" stroke-width="0.9"/>
<rect x="426.90" y="126.35" width="15.60" height="10.00" fill="url(#tile)" stroke="#c8c8cc" stroke-width="0.9"/>
<rect x="444.70" y="126.35" width="15.70" height="10.00" fill="url(#tile)" stroke="#c8c8cc" stroke-width="0.9"/>
<rect x="462.60" y="126.35" width="16.30" height="10.00" fill="url(#tile)" stroke="#c8c8cc" stroke-width="0.9"/>
<rect x="481.10" y="126.35" width="16.00" height="10.00" fill="url(#tile)" stroke="#c8c8cc" stroke-width="0.9"/>
<rect x="409.20" y="138.55" width="15.50" height="10.00" fill="url(#tile)" stroke="#c8c8cc" stroke-width="0.9"/>
<rect x="426.90" y="138.55" width="15.60" height="10.00" fill="url(#tile)" stroke="#c8c8cc" stroke-width="0.9"/>
<rect x="444.70" y="138.55" width="15.70" height="10.00" fill="url(#tile)" stroke="#c8c8cc" stroke-width="0.9"/>
<rect x="462.60" y="138.55" width="16.30" height="10.00" fill="url(#tile)" stroke="#c8c8cc" stroke-width="0.9"/>
<rect x="481.10" y="138.55" width="16.00" height="10.00" fill="url(#tile)" stroke="#c8c8cc" stroke-width="0.9"/>
<rect x="409.20" y="150.75" width="15.50" height="10.00" fill="url(#tile)" stroke="#c8c8cc" stroke-width="0.9"/>
<rect x="426.90" y="150.75" width="15.60" height="10.00" fill="url(#tile)" stroke="#c8c8cc" stroke-width="0.9"/>
<rect x="444.70" y="150.75" width="15.70" height="10.00" fill="url(#tile)" stroke="#c8c8cc" stroke-width="0.9"/>
<rect x="462.60" y="150.75" width="16.30" height="10.00" fill="url(#tile)" stroke="#c8c8cc" stroke-width="0.9"/>
<rect x="481.10" y="150.75" width="16.00" height="10.00" fill="url(#tile)" stroke="#c8c8cc" stroke-width="0.9"/>
<rect x="409.20" y="162.95" width="15.50" height="10.00" fill="url(#tile)" stroke="#c8c8cc" stroke-width="0.9"/>
<rect x="426.90" y="162.95" width="15.60" height="10.00" fill="url(#tile)" stroke="#c8c8cc" stroke-width="0.9"/>
<rect x="444.70" y="162.95" width="15.70" height="10.00" fill="url(#tile)" stroke="#c8c8cc" stroke-width="0.9"/>
<rect x="462.60" y="162.95" width="16.30" height="10.00" fill="url(#tile)" stroke="#c8c8cc" stroke-width="0.9"/>
<rect x="481.10" y="162.95" width="16.00" height="10.00" fill="url(#tile)" stroke="#c8c8cc" stroke-width="0.9"/>
<rect x="409.20" y="175.15" width="15.50" height="10.00" fill="url(#tile)" stroke="#c8c8cc" stroke-width="0.9"/>
<rect x="426.90" y="175.15" width="15.60" height="10.00" fill="url(#tile)" stroke="#c8c8cc" stroke-width="0.9"/>
<rect x="444.70" y="175.15" width="15.70" height="10.00" fill="url(#tile)" stroke="#c8c8cc" stroke-width="0.9"/>
<rect x="462.60" y="175.15" width="16.30" height="10.00" fill="url(#tile)" stroke="#c8c8cc" stroke-width="0.9"/>
<rect x="481.10" y="175.15" width="16.00" height="10.00" fill="url(#tile)" stroke="#c8c8cc" stroke-width="0.9"/>
<rect x="409.20" y="187.35" width="15.50" height="10.00" fill="url(#tile)" stroke="#c8c8cc" stroke-width="0.9"/>
<rect x="426.90" y="187.35" width="15.60" height="10.00" fill="url(#tile)" stroke="#c8c8cc" stroke-width="0.9"/>
<rect x="444.70" y="187.35" width="15.70" height="10.00" fill="url(#tile)" stroke="#c8c8cc" stroke-width="0.9"/>
<rect x="462.60" y="187.35" width="16.30" height="10.00" fill="url(#tile)" stroke="#c8c8cc" stroke-width="0.9"/>
<rect x="481.10" y="187.35" width="16.00" height="10.00" fill="url(#tile)" stroke="#c8c8cc" stroke-width="0.9"/>
<rect x="409.20" y="199.55" width="15.50" height="10.00" fill="url(#tile)" stroke="#c8c8cc" stroke-width="0.9"/>
<rect x="426.90" y="199.55" width="15.60" height="10.00" fill="url(#tile)" stroke="#c8c8cc" stroke-width="0.9"/>
<rect x="444.70" y="199.55" width="15.70" height="10.00" fill="url(#tile)" stroke="#c8c8cc" stroke-width="0.9"/>
<rect x="462.60" y="199.55" width="16.30" height="10.00" fill="url(#tile)" stroke="#c8c8cc" stroke-width="0.9"/>
<rect x="481.10" y="199.55" width="16.00" height="10.00" fill="url(#tile)" stroke="#c8c8cc" stroke-width="0.9"/>
<rect x="409.20" y="211.75" width="15.50" height="10.00" fill="url(#tile)" stroke="#c8c8cc" stroke-width="0.9"/>
<rect x="426.90" y="211.75" width="15.60" height="10.00" fill="url(#tile)" stroke="#c8c8cc" stroke-width="0.9"/>
<rect x="444.70" y="211.75" width="15.70" height="10.00" fill="url(#tile)" stroke="#c8c8cc" stroke-width="0.9"/>
<rect x="462.60" y="211.75" width="16.30" height="10.00" fill="url(#tile)" stroke="#c8c8cc" stroke-width="0.9"/>
<rect x="481.10" y="211.75" width="16.00" height="10.00" fill="url(#tile)" stroke="#c8c8cc" stroke-width="0.9"/>
<rect x="409.20" y="223.95" width="15.50" height="10.00" fill="url(#tile)" stroke="#c8c8cc" stroke-width="0.9"/>
<rect x="426.90" y="223.95" width="15.60" height="10.00" fill="url(#tile)" stroke="#c8c8cc" stroke-width="0.9"/>
<rect x="444.70" y="223.95" width="15.70" height="10.00" fill="url(#tile)" stroke="#c8c8cc" stroke-width="0.9"/>
<rect x="462.60" y="223.95" width="16.30" height="10.00" fill="url(#tile)" stroke="#c8c8cc" stroke-width="0.9"/>
<rect x="481.10" y="223.95" width="16.00" height="10.00" fill="url(#tile)" stroke="#c8c8cc" stroke-width="0.9"/>
<rect x="409.20" y="236.15" width="15.50" height="10.00" fill="url(#tile)" stroke="#c8c8cc" stroke-width="0.9"/>
<rect x="426.90" y="236.15" width="15.60" height="10.00" fill="url(#tile)" stroke="#c8c8cc" stroke-width="0.9"/>
<rect x="444.70" y="236.15" width="15.70" height="10.00" fill="url(#tile)" stroke="#c8c8cc" stroke-width="0.9"/>
<rect x="462.60" y="236.15" width="16.30" height="10.00" fill="url(#tile)" stroke="#c8c8cc" stroke-width="0.9"/>
<rect x="481.10" y="236.15" width="16.00" height="10.00" fill="url(#tile)" stroke="#c8c8cc" stroke-width="0.9"/>
<rect x="409.20" y="248.35" width="15.50" height="10.00" fill="url(#tile)" stroke="#c8c8cc" stroke-width="0.9"/>
<rect x="426.90" y="248.35" width="15.60" height="10.00" fill="url(#tile)" stroke="#c8c8cc" stroke-width="0.9"/>
<rect x="444.70" y="248.35" width="15.70" height="10.00" fill="url(#tile)" stroke="#c8c8cc" stroke-width="0.9"/>
<rect x="462.60" y="248.35" width="16.30" height="10.00" fill="url(#tile)" stroke="#c8c8cc" stroke-width="0.9"/>
<rect x="481.10" y="248.35" width="16.00" height="10.00" fill="url(#tile)" stroke="#c8c8cc" stroke-width="0.9"/>
<rect x="409.20" y="260.55" width="15.50" height="10.00" fill="url(#tile)" stroke="#c8c8cc" stroke-width="0.9"/>
<rect x="426.90" y="260.55" width="15.60" height="10.00" fill="url(#tile)" stroke="#c8c8cc" stroke-width="0.9"/>
<rect x="444.70" y="260.55" width="15.70" height="10.00" fill="url(#tile)" stroke="#c8c8cc" stroke-width="0.9"/>
<rect x="462.60" y="260.55" width="16.30" height="10.00" fill="url(#tile)" stroke="#c8c8cc" stroke-width="0.9"/>
<rect x="481.10" y="260.55" width="16.00" height="10.00" fill="url(#tile)" stroke="#c8c8cc" stroke-width="0.9"/>
<rect x="409.20" y="272.75" width="15.50" height="10.00" fill="url(#tile)" stroke="#c8c8cc" stroke-width="0.9"/>
<rect x="426.90" y="272.75" width="15.60" height="10.00" fill="url(#tile)" stroke="#c8c8cc" stroke-width="0.9"/>
<rect x="444.70" y="272.75" width="15.70" height="10.00" fill="url(#tile)" stroke="#c8c8cc" stroke-width="0.9"/>
<rect x="462.60" y="272.75" width="16.30" height="10.00" fill="url(#tile)" stroke="#c8c8cc" stroke-width="0.9"/>
<rect x="481.10" y="272.75" width="16.00" height="10.00" fill="url(#tile)" stroke="#c8c8cc" stroke-width="0.9"/>
<rect x="409.20" y="284.95" width="15.50" height="10.00" fill="url(#tile)" stroke="#c8c8cc" stroke-width="0.9"/>
<rect x="426.90" y="284.95" width="15.60" height="10.00" fill="url(#tile)" stroke="#c8c8cc" stroke-width="0.9"/>
<rect x="444.70" y="284.95" width="15.70" height="10.00" fill="url(#tile)" stroke="#c8c8cc" stroke-width="0.9"/>
<rect x="462.60" y="284.95" width="16.30" height="10.00" fill="url(#tile)" stroke="#c8c8cc" stroke-width="0.9"/>
<rect x="481.10" y="284.95" width="16.00" height="10.00" fill="url(#tile)" stroke="#c8c8cc" stroke-width="0.9"/>
<rect x="409.20" y="297.15" width="15.50" height="10.00" fill="url(#tile)" stroke="#c8c8cc" stroke-width="0.9"/>
<rect x="426.90" y="297.15" width="15.60" height="10.00" fill="url(#tile)" stroke="#c8c8cc" stroke-width="0.9"/>
<rect x="444.70" y="297.15" width="15.70" height="10.00" fill="url(#tile)" stroke="#c8c8cc" stroke-width="0.9"/>
<rect x="462.60" y="297.15" width="16.30" height="10.00" fill="url(#tile)" stroke="#c8c8cc" stroke-width="0.9"/>
<rect x="481.10" y="297.15" width="16.00" height="10.00" fill="url(#tile)" stroke="#c8c8cc" stroke-width="0.9"/>
<rect x="409.20" y="309.35" width="15.50" height="10.00" fill="url(#tile)" stroke="#c8c8cc" stroke-width="0.9"/>
<rect x="426.90" y="309.35" width="15.60" height="10.00" fill="url(#tile)" stroke="#c8c8cc" stroke-width="0.9"/>
<rect x="444.70" y="309.35" width="15.70" height="10.00" fill="url(#tile)" stroke="#c8c8cc" stroke-width="0.9"/>
<rect x="462.60" y="309.35" width="16.30" height="10.00" fill="url(#tile)" stroke="#c8c8cc" stroke-width="0.9"/>
<rect x="481.10" y="309.35" width="16.00" height="10.00" fill="url(#tile)" stroke="#c8c8cc" stroke-width="0.9"/>
<rect x="409.20" y="321.55" width="15.50" height="10.00" fill="url(#tile)" stroke="#c8c8cc" stroke-width="0.9"/>
<rect x="426.90" y="321.55" width="15.60" height="10.00" fill="url(#tile)" stroke="#c8c8cc" stroke-width="0.9"/>
<rect x="444.70" y="321.55" width="15.70" height="10.00" fill="url(#tile)" stroke="#c8c8cc" stroke-width="0.9"/>
<rect x="462.60" y="321.55" width="16.30" height="10.00" fill="url(#tile)" stroke="#c8c8cc" stroke-width="0.9"/>
<rect x="481.10" y="321.55" width="16.00" height="10.00" fill="url(#tile)" stroke="#c8c8cc" stroke-width="0.9"/>
<rect x="409.20" y="333.75" width="15.50" height="10.00" fill="url(#tile)" stroke="#c8c8cc" stroke-width="0.9"/>
<rect x="426.90" y="333.75" width="15.60" height="10.00" fill="url(#tile)" stroke="#c8c8cc" stroke-width="0.9"/>
<rect x="444.70" y="333.75" width="15.70" height="10.00" fill="url(#tile)" stroke="#c8c8cc" stroke-width="0.9"/>
<rect x="462.60" y="333.75" width="16.30" height="10.00" fill="url(#tile)" stroke="#c8c8cc" stroke-width="0.9"/>
<rect x="481.10" y="333.75" width="16.00" height="10.00" fill="url(#tile)" stroke="#c8c8cc" stroke-width="0.9"/>
<rect x="409.20" y="345.95" width="15.50" height="10.00" fill="url(#tile)" stroke="#c8c8cc" stroke-width="0.9"/>
<rect x="426.90" y="345.95" width="15.60" height="10.00" fill="url(#tile)" stroke="#c8c8cc" stroke-width="0.9"/>
<rect x="444.70" y="345.95" width="15.70" height="10.00" fill="url(#tile)" stroke="#c8c8cc" stroke-width="0.9"/>
<rect x="462.60" y="345.95" width="16.30" height="10.00" fill="url(#tile)" stroke="#c8c8cc" stroke-width="0.9"/>
<rect x="481.10" y="345.95" width="16.00" height="10.00" fill="url(#tile)" stroke="#c8c8cc" stroke-width="0.9"/>
<rect x="409.20" y="358.15" width="15.50" height="10.00" fill="url(#tile)" stroke="#c8c8cc" stroke-width="0.9"/>
<rect x="426.90" y="358.15" width="15.60" height="10.00" fill="url(#tile)" stroke="#c8c8cc" stroke-width="0.9"/>
<rect x="444.70" y="358.15" width="15.70" height="10.00" fill="url(#tile)" stroke="#c8c8cc" stroke-width="0.9"/>
<rect x="462.60" y="358.15" width="16.30" height="10.00" fill="url(#tile)" stroke="#c8c8cc" stroke-width="0.9"/>
<rect x="481.10" y="358.15" width="16.00" height="10.00" fill="url(#tile)" stroke="#c8c8cc" stroke-width="0.9"/>
<rect x="409.20" y="370.35" width="15.50" height="10.00" fill="url(#tile)" stroke="#c8c8cc" stroke-width="0.9"/>
<rect x="426.90" y="370.35" width="15.60" height="10.00" fill="url(#tile)" stroke="#c8c8cc" stroke-width="0.9"/>
<rect x="444.70" y="370.35" width="15.70" height="10.00" fill="url(#tile)" stroke="#c8c8cc" stroke-width="0.9"/>
<rect x="462.60" y="370.35" width="16.30" height="10.00" fill="url(#tile)" stroke="#c8c8cc" stroke-width="0.9"/>
<rect x="481.10" y="370.35" width="16.00" height="10.00" fill="url(#tile)" stroke="#c8c8cc" stroke-width="0.9"/>
<rect x="409.20" y="382.55" width="15.50" height="10.00" fill="url(#tile)" stroke="#c8c8cc" stroke-width="0.9"/>
<rect x="426.90" y="382.55" width="15.60" height="10.00" fill="url(#tile)" stroke="#c8c8cc" stroke-width="0.9"/>
<rect x="444.70" y="382.55" width="15.70" height="10.00" fill="url(#tile)" stroke="#c8c8cc" stroke-width="0.9"/>
<rect x="462.60" y="382.55" width="16.30" height="10.00" fill="url(#tile)" stroke="#c8c8cc" stroke-width="0.9"/>
<rect x="481.10" y="382.55" width="16.00" height="10.00" fill="url(#tile)" stroke="#c8c8cc" stroke-width="0.9"/>
<rect x="409.20" y="394.75" width="15.50" height="10.00" fill="url(#tile)" stroke="#c8c8cc" stroke-width="0.9"/>
<rect x="426.90" y="394.75" width="15.60" height="10.00" fill="url(#tile)" stroke="#c8c8cc" stroke-width="0.9"/>
<rect x="444.70" y="394.75" width="15.70" height="10.00" fill="url(#tile)" stroke="#c8c8cc" stroke-width="0.9"/>
<rect x="462.60" y="394.75" width="16.30" height="10.00" fill="url(#tile)" stroke="#c8c8cc" stroke-width="0.9"/>
<rect x="481.10" y="394.75" width="16.00" height="10.00" fill="url(#tile)" stroke="#c8c8cc" stroke-width="0.9"/>
<rect x="409.20" y="406.95" width="15.50" height="10.00" fill="url(#tile)" stroke="#c8c8cc" stroke-width="0.9"/>
<rect x="426.90" y="406.95" width="15.60" height="10.00" fill="url(#tile)" stroke="#c8c8cc" stroke-width="0.9"/>
<rect x="444.70" y="406.95" width="15.70" height="10.00" fill="url(#tile)" stroke="#c8c8cc" stroke-width="0.9"/>
<rect x="462.60" y="406.95" width="16.30" height="10.00" fill="url(#tile)" stroke="#c8c8cc" stroke-width="0.9"/>
<rect x="481.10" y="406.95" width="16.00" height="10.00" fill="url(#tile)" stroke="#c8c8cc" stroke-width="0.9"/>
<rect x="409.20" y="419.15" width="15.50" height="-1.15" fill="url(#tile)" stroke="#c8c8cc" stroke-width="0.9"/>
<rect x="426.90" y="419.15" width="15.60" height="-1.15" fill="url(#tile)" stroke="#c8c8cc" stroke-width="0.9"/>
<rect x="444.70" y="419.15" width="15.70" height="-1.15" fill="url(#tile)" stroke="#c8c8cc" stroke-width="0.9"/>
<rect x="462.60" y="419.15" width="16.30" height="-1.15" fill="url(#tile)" stroke="#c8c8cc" stroke-width="0.9"/>
<rect x="481.10" y="419.15" width="16.00" height="-1.15" fill="url(#tile)" stroke="#c8c8cc" stroke-width="0.9"/>
<rect x="408.1" y="79.4" width="90.1" height="338.6" fill="url(#cR)"/>
<g stroke="#bababe" stroke-width="1.3">
<line x1="408.1" y1="79.4" x2="408.1" y2="418.0"/>
<line x1="498.2" y1="79.4" x2="498.2" y2="418.0"/>
</g></g>
<rect x="404.5" y="418.6" width="97.5" height="22.6" fill="url(#endg)"/>
<g fill="#fffcf4" stroke="#e96e14" stroke-width="4.1">
<ellipse cx="295.8" cy="284.2" rx="8.4" ry="5.5"/>
<ellipse cx="295.8" cy="308.6" rx="8.4" ry="5.5"/>
<ellipse cx="295.8" cy="332.9" rx="8.4" ry="5.5"/>
<ellipse cx="295.8" cy="357.3" rx="8.4" ry="5.5"/>
<ellipse cx="295.8" cy="381.7" rx="8.4" ry="5.5"/>
<ellipse cx="295.8" cy="406.2" rx="8.4" ry="5.5"/>
<ellipse cx="295.8" cy="430.6" rx="8.4" ry="5.5"/>
<ellipse cx="295.8" cy="454.9" rx="8.4" ry="5.5"/>
<ellipse cx="295.8" cy="479.3" rx="8.4" ry="5.5"/>
<ellipse cx="295.8" cy="503.7" rx="8.4" ry="5.5"/>
<ellipse cx="295.8" cy="528.1" rx="8.4" ry="5.5"/>
<ellipse cx="295.8" cy="552.5" rx="8.4" ry="5.5"/>
<ellipse cx="295.8" cy="576.9" rx="8.4" ry="5.5"/>
<ellipse cx="295.8" cy="601.3" rx="8.4" ry="5.5"/>
<ellipse cx="295.8" cy="625.7" rx="8.4" ry="5.5"/>
</g>
<rect x="394.8" y="286.6" width="117.6" height="31.8" rx="3" fill="url(#loop)"/>
<rect x="394.8" y="286.6" width="117.6" height="31.8" rx="3" fill="url(#loopV)" stroke="#a8a8ac" stroke-width="0.6"/>
<rect x="394.8" y="345" width="117.6" height="31.8" rx="3" fill="url(#loop)"/>
<rect x="394.8" y="345" width="117.6" height="31.8" rx="3" fill="url(#loopV)" stroke="#a8a8ac" stroke-width="0.6"/>
<path d="M397.2,425.5 Q397.2,422.2 400.8,422.2 Q404.3,422.2 404.3,425.5 L405,479 Q405.5,487 413,487 L493,487 Q500.7,487 501.2,479 L502,425.5 Q502,422.2 505,422.2 Q508.2,422.2 508.2,425.5 L508.8,493 Q509,504 500,506.5 Q480,511.2 453,511.2 Q426,511.2 405,506.5 Q396,504 396,493 Z" fill="url(#buck)"/>
<path d="M397.2,425.5 Q397.2,422.2 400.8,422.2 Q404.3,422.2 404.3,425.5 L405,479 Q405.5,487 413,487 L493,487 Q500.7,487 501.2,479 L502,425.5 Q502,422.2 505,422.2 Q508.2,422.2 508.2,425.5 L508.8,493 Q509,504 500,506.5 Q480,511.2 453,511.2 Q426,511.2 405,506.5 Q396,504 396,493 Z" fill="url(#bedge)"/>
<path d="M446.3,426.5 Q446.3,425.5 448,425.5 L459,425.5 Q460.7,425.5 460.7,426.5 L460.7,491 Q453.5,493.5 446.3,491 Z" fill="#2a2a3a"/>
<rect x="446.5" y="437.5" width="14" height="12" fill="#3e4c62"/>
<rect x="446.5" y="436.6" width="13" height="2.2" fill="url(#hl)"/>
<rect x="446.5" y="448.2" width="13" height="2.2" fill="url(#hl)"/>
<path d="M447,425.2 Q453.5,423.2 460,425.2" fill="none" stroke="#f4f4f8" stroke-width="1"/>
<path d="M446.3,491 Q453.5,494 460.7,491 L460.7,492.5 Q453.5,495.5 446.3,492.5 Z" fill="#9ab0c4" opacity="0.7"/>
<g stroke="#000" stroke-width="2.4" fill="none">
<line x1="242" y1="39" x2="242" y2="76"/><line x1="348" y1="39" x2="348" y2="76"/><line x1="242" y1="65.6" x2="348" y2="65.6"/>
<line x1="403" y1="39" x2="403" y2="74"/><line x1="508.2" y1="38.5" x2="508.2" y2="74"/><line x1="403" y1="64.9" x2="508.2" y2="64.9"/>
<polyline points="227.5,86 163.3,86 163.3,340"/><polyline points="163.3,374 163.3,717.7 233.7,717.7"/>
<polyline points="250,714 250,744 343.7,744 343.7,712.5"/>
<polyline points="514,82.8 553.2,82.8 553.2,228"/><polyline points="553.2,265 553.2,448 514,448"/>
<polyline points="553,82.8 613,82.8 613,271"/><polyline points="613,314 613,517.6 517.7,517.6"/>
<polyline points="406.2,517.6 406.2,544.3 501.9,544.3 501.9,520"/>
</g>
<text x="256" y="57.8">20mm</text>
<text x="419.8" y="58.8">20mm</text>
<text x="118" y="362.6">120mm</text>
<text x="518" y="252.8">70mm</text>
<text x="579" y="296.2">82mm</text>
<text x="414.5" y="539">18mm</text>
<text x="258.2" y="738.5">18mm</text>
</svg></body></html>
